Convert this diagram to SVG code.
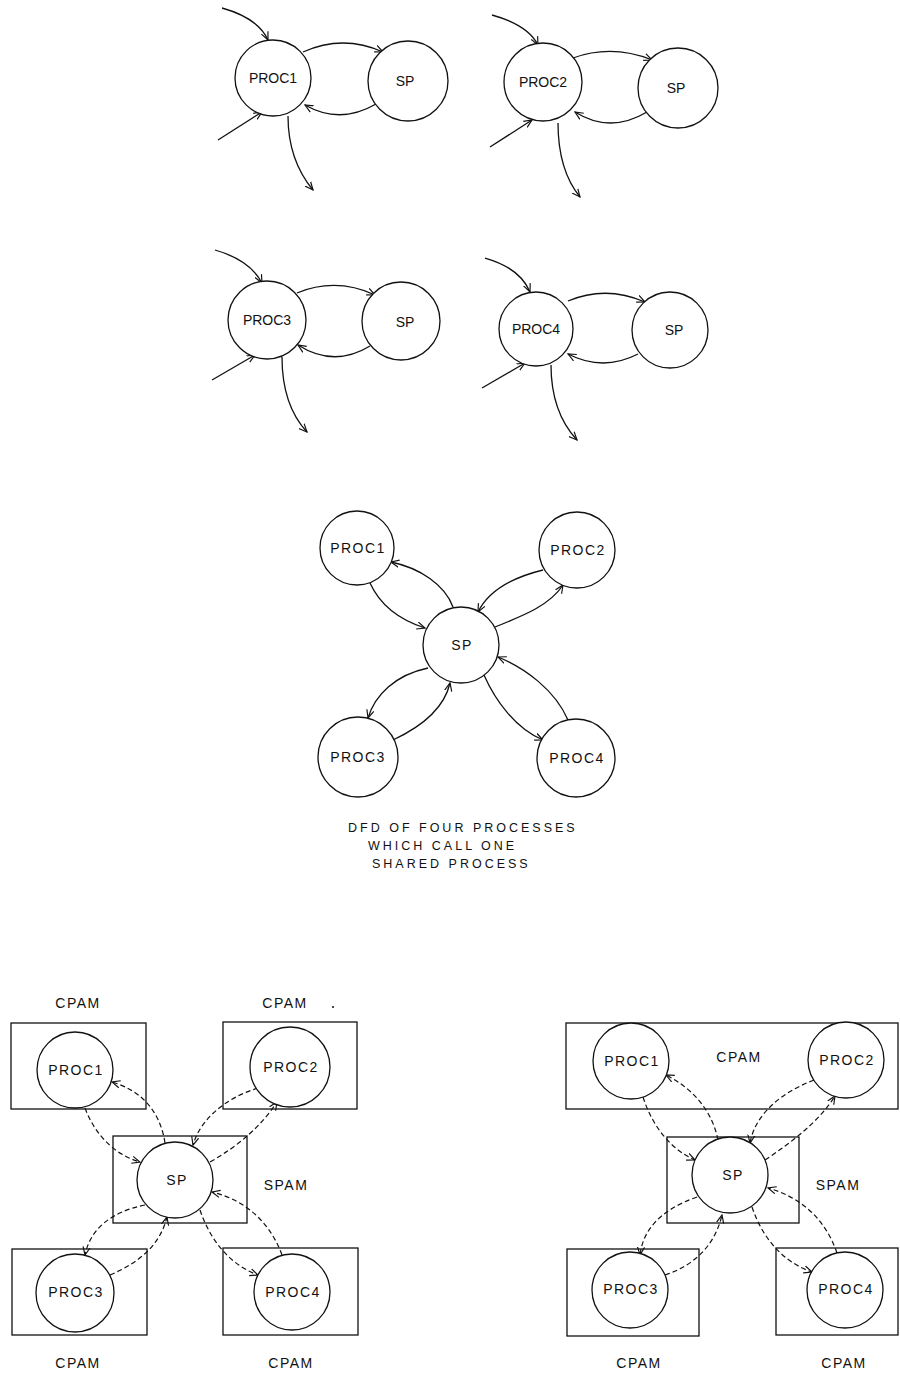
<svg xmlns="http://www.w3.org/2000/svg" width="900" height="1373" viewBox="0 0 900 1373">
<style>
  .bg { fill: #ffffff; }
  .node { fill: #ffffff; stroke: #111; stroke-width: 1.3; }
  .box { fill: none; stroke: #111; stroke-width: 1.3; }
  .lbl { font-family: "Liberation Sans", Arial, sans-serif; font-size: 14px; fill: #111; text-anchor: middle; }
  .lbl2 { font-family: "Liberation Sans", Arial, sans-serif; font-size: 14px; fill: #111; text-anchor: middle; letter-spacing: 1.5px; }
  .cap { font-family: "Liberation Sans", Arial, sans-serif; font-size: 12.5px; fill: #111; letter-spacing: 3px; }
  .flow { fill: none; stroke: #111; stroke-width: 1.3; marker-end: url(#ah); }
  .dflow { fill: none; stroke: #111; stroke-width: 1.2; stroke-dasharray: 5 3; marker-end: url(#ah); }
</style>
<defs>
  <marker id="ah" viewBox="0 0 10 10" refX="9" refY="5" markerWidth="9" markerHeight="9" markerUnits="userSpaceOnUse" orient="auto">
    <path d="M0,1 L9,5 L0,9" fill="none" stroke="#111" stroke-width="1.3"/>
  </marker>
</defs>
<rect class="bg" x="0" y="0" width="900" height="1373"/>

<!-- Connectors -->
<g id="connectors">
  <!-- panel 1 -->
  <path class="flow" d="M222,8 Q258,18 268,40"/>
  <path class="flow" d="M218,140 L262,112"/>
  <path class="flow" d="M288,116 Q288,160 313,190"/>
  <path class="flow" d="M303,52 Q343,34 383,52"/>
  <path class="flow" d="M376,104 Q340,125 305,105"/>
  <!-- panel 2 -->
  <path class="flow" d="M492,15 Q528,25 538,45"/>
  <path class="flow" d="M490,147 L532,120"/>
  <path class="flow" d="M558,123 Q558,170 580,197"/>
  <path class="flow" d="M573,58 Q612,44 652,60"/>
  <path class="flow" d="M647,112 Q610,134 575,112"/>
  <!-- panel 3 -->
  <path class="flow" d="M215,250 Q250,260 262,283"/>
  <path class="flow" d="M212,380 L255,355"/>
  <path class="flow" d="M282,357 Q282,405 307,432"/>
  <path class="flow" d="M297,293 Q336,277 375,295"/>
  <path class="flow" d="M370,346 Q334,368 298,345"/>
  <!-- panel 4 -->
  <path class="flow" d="M485,258 Q520,268 530,292"/>
  <path class="flow" d="M482,388 L525,363"/>
  <path class="flow" d="M551,365 Q551,412 577,440"/>
  <path class="flow" d="M568,301 Q606,285 645,302"/>
  <path class="flow" d="M638,354 Q603,372 568,354"/>
  <!-- star -->
  <path class="flow" d="M453,607 C445,585 420,568 391,562"/>
  <path class="flow" d="M370,583 C380,605 400,620 425,628"/>
  <path class="flow" d="M543,570 C510,578 488,592 478,612"/>
  <path class="flow" d="M495,627 C525,615 550,605 563,585"/>
  <path class="flow" d="M428,668 C395,675 375,695 368,718"/>
  <path class="flow" d="M393,740 C425,725 445,705 450,683"/>
  <path class="flow" d="M484,675 C495,700 515,728 543,740"/>
  <path class="flow" d="M568,720 C555,690 525,668 498,657"/>
  <!-- bottom left -->
  <path class="dflow" d="M165,1143 C160,1110 140,1090 112,1082"/>
  <path class="dflow" d="M85,1108 C95,1135 115,1155 140,1162"/>
  <path class="dflow" d="M258,1088 C225,1098 200,1120 193,1145"/>
  <path class="dflow" d="M210,1162 C240,1145 262,1125 277,1102"/>
  <path class="dflow" d="M145,1205 C110,1212 90,1230 85,1255"/>
  <path class="dflow" d="M110,1275 C140,1262 160,1245 167,1217"/>
  <path class="dflow" d="M200,1210 C210,1240 230,1265 258,1275"/>
  <path class="dflow" d="M282,1255 C270,1222 245,1200 212,1192"/>
  <!-- bottom right -->
  <path class="dflow" d="M718,1140 C712,1110 692,1088 666,1075"/>
  <path class="dflow" d="M643,1097 C653,1128 672,1150 695,1160"/>
  <path class="dflow" d="M814,1080 C780,1093 755,1115 750,1143"/>
  <path class="dflow" d="M765,1160 C795,1140 820,1120 835,1096"/>
  <path class="dflow" d="M697,1197 C660,1210 643,1230 640,1255"/>
  <path class="dflow" d="M665,1275 C695,1265 715,1245 722,1215"/>
  <path class="dflow" d="M752,1207 C763,1240 785,1263 812,1272"/>
  <path class="dflow" d="M837,1253 C825,1218 800,1197 768,1188"/>
</g>

<!-- Top row panels -->
<g id="p1-proc1"><circle class="node" cx="273" cy="78" r="38"/><text class="lbl" x="273" y="83">PROC1</text></g>
<g id="p1-sp"><circle class="node" cx="408" cy="81" r="40"/><text class="lbl" x="405" y="86">SP</text></g>
<g id="p2-proc2"><circle class="node" cx="543" cy="82" r="39"/><text class="lbl" x="543" y="87">PROC2</text></g>
<g id="p2-sp"><circle class="node" cx="678" cy="88" r="40"/><text class="lbl" x="676" y="93">SP</text></g>
<g id="p3-proc3"><circle class="node" cx="267" cy="320" r="39"/><text class="lbl" x="267" y="325">PROC3</text></g>
<g id="p3-sp"><circle class="node" cx="401" cy="321" r="39"/><text class="lbl" x="405" y="327">SP</text></g>
<g id="p4-proc4"><circle class="node" cx="536" cy="329" r="37"/><text class="lbl" x="536" y="334">PROC4</text></g>
<g id="p4-sp"><circle class="node" cx="670" cy="330" r="38"/><text class="lbl" x="674" y="335">SP</text></g>

<!-- Star diagram -->
<g id="s-proc1"><circle class="node" cx="357" cy="548" r="37"/><text class="lbl2" x="358" y="553">PROC1</text></g>
<g id="s-proc2"><circle class="node" cx="577" cy="550" r="38"/><text class="lbl2" x="578" y="555">PROC2</text></g>
<g id="s-sp"><circle class="node" cx="461" cy="645" r="38"/><text class="lbl2" x="462" y="650">SP</text></g>
<g id="s-proc3"><circle class="node" cx="358" cy="757" r="40"/><text class="lbl2" x="358" y="762">PROC3</text></g>
<g id="s-proc4"><circle class="node" cx="576" cy="758" r="39"/><text class="lbl2" x="577" y="763">PROC4</text></g>
<g id="caption">
  <text class="cap" x="348" y="832">DFD OF FOUR PROCESSES</text>
  <text class="cap" x="368" y="850">WHICH CALL ONE</text>
  <text class="cap" x="372" y="868">SHARED PROCESS</text>
</g>

<!-- Bottom left -->
<g id="bl-cpam1"><rect class="box" x="11" y="1023" width="135" height="86"/><text class="lbl2" x="78" y="1008">CPAM</text></g>
<g id="bl-cpam2"><rect class="box" x="223" y="1022" width="134" height="87"/><text class="lbl2" x="285" y="1008">CPAM</text><circle cx="333" cy="1007" r="1" fill="#111"/></g>
<g id="bl-spam"><rect class="box" x="113" y="1136" width="134" height="87"/><text class="lbl2" x="286" y="1190">SPAM</text></g>
<g id="bl-cpam3"><rect class="box" x="12" y="1249" width="135" height="86"/><text class="lbl2" x="78" y="1368">CPAM</text></g>
<g id="bl-cpam4"><rect class="box" x="223" y="1248" width="135" height="87"/><text class="lbl2" x="291" y="1368">CPAM</text></g>
<g id="bl-proc1"><circle class="node" cx="75" cy="1070" r="38"/><text class="lbl2" x="76" y="1075">PROC1</text></g>
<g id="bl-proc2"><circle class="node" cx="290" cy="1067" r="40"/><text class="lbl2" x="291" y="1072">PROC2</text></g>
<g id="bl-sp"><circle class="node" cx="175" cy="1180" r="38"/><text class="lbl2" x="177" y="1185">SP</text></g>
<g id="bl-proc3"><circle class="node" cx="75" cy="1293" r="39"/><text class="lbl2" x="76" y="1297">PROC3</text></g>
<g id="bl-proc4"><circle class="node" cx="292" cy="1292" r="38"/><text class="lbl2" x="293" y="1297">PROC4</text></g>

<!-- Bottom right -->
<g id="br-cpam12"><rect class="box" x="566" y="1023" width="332" height="86"/><text class="lbl2" x="739" y="1062">CPAM</text></g>
<g id="br-spam"><rect class="box" x="667" y="1137" width="132" height="86"/><text class="lbl2" x="838" y="1190">SPAM</text></g>
<g id="br-cpam3"><rect class="box" x="567" y="1249" width="132" height="87"/><text class="lbl2" x="639" y="1368">CPAM</text></g>
<g id="br-cpam4"><rect class="box" x="776" y="1248" width="122" height="87"/><text class="lbl2" x="844" y="1368">CPAM</text></g>
<g id="br-proc1"><circle class="node" cx="631" cy="1061" r="38"/><text class="lbl2" x="632" y="1066">PROC1</text></g>
<g id="br-proc2"><circle class="node" cx="846" cy="1060" r="38"/><text class="lbl2" x="847" y="1065">PROC2</text></g>
<g id="br-sp"><circle class="node" cx="730" cy="1175" r="38"/><text class="lbl2" x="733" y="1180">SP</text></g>
<g id="br-proc3"><circle class="node" cx="630" cy="1290" r="38"/><text class="lbl2" x="631" y="1294">PROC3</text></g>
<g id="br-proc4"><circle class="node" cx="845" cy="1290" r="38"/><text class="lbl2" x="846" y="1294">PROC4</text></g>
</svg>
